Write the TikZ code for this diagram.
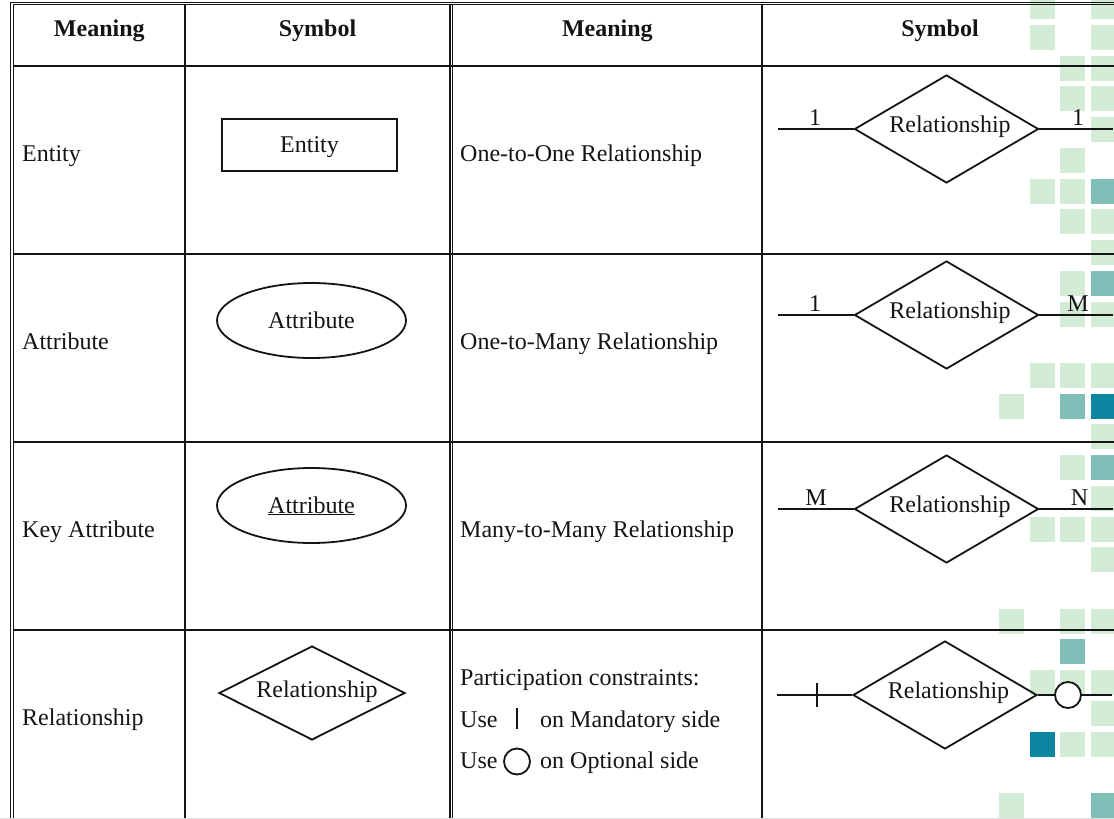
\documentclass[tikz,border=0pt]{standalone}
\usepackage{fontspec}
\setmainfont{Liberation Serif}
\usetikzlibrary{shapes.geometric}

\definecolor{tileLight}{HTML}{D4EBD6}
\definecolor{tileMid}{HTML}{80BFB7}
\definecolor{tileDark}{HTML}{0C86A0}
\definecolor{ink}{HTML}{141414}

\begin{document}
\begin{tikzpicture}[x=1bp,y=-1bp,
  txt/.style={font=\fontsize{24bp}{28bp}\selectfont, inner sep=0pt, text=ink},
  hdr/.style={txt, font=\fontsize{24bp}{28bp}\selectfont\bfseries, anchor=base},
  cell/.style={txt, anchor=base west},
  tag/.style={txt, anchor=base},
  rule/.style={line width=1.3bp, ink},
  dbl/.style={line width=1.1bp, ink},
  conn/.style={line width=1.8bp, ink},
  shp/.style={draw=ink, line width=1.8bp, txt},
  entitybox/.style={shp, rectangle, minimum width=175bp, minimum height=52bp,
    text height=16bp, text depth=2bp},
  attrbox/.style={shp, ellipse, minimum width=189bp, minimum height=75bp,
    text height=16.5bp, text depth=1.5bp},
  relbox/.style={shp, diamond, aspect=1.7, minimum width=184bp, minimum height=108bp,
    text height=12bp, text depth=6bp},
  relsmall/.style={shp, diamond, aspect=2, minimum width=186bp, minimum height=94bp,
    text height=13bp, text depth=5bp},
  ring/.style={draw=ink, line width=1.8bp, circle, minimum size=26bp, inner sep=0pt, fill=white},
]
\useasboundingbox (0,0) rectangle (1114,819);
\clip (0,0) rectangle (1114,819);
\fill[white] (0,0) rectangle (1114,819);

% decorative tiles along the right margin
\foreach \r/\c/\col in {
  0/1/tileLight, 0/3/tileLight, 1/1/tileLight, 1/3/tileLight,
  2/2/tileLight, 2/3/tileLight, 3/2/tileLight, 3/3/tileLight,
  4/3/tileLight, 5/2/tileLight,
  6/1/tileLight, 6/2/tileLight, 6/3/tileMid,
  7/2/tileLight, 7/3/tileLight, 8/3/tileLight,
  9/2/tileLight, 9/3/tileMid, 10/2/tileLight, 10/3/tileLight,
  12/1/tileLight, 12/2/tileLight, 12/3/tileLight,
  13/0/tileLight, 13/2/tileMid, 13/3/tileDark,
  14/3/tileLight, 15/2/tileLight, 15/3/tileMid, 16/3/tileLight,
  17/1/tileLight, 17/2/tileLight, 17/3/tileLight, 18/3/tileLight,
  20/0/tileLight, 20/2/tileLight, 20/3/tileLight, 21/2/tileMid,
  22/1/tileLight, 22/2/tileLight, 22/3/tileLight, 23/3/tileLight,
  24/1/tileDark, 24/2/tileLight, 24/3/tileLight,
  26/0/tileLight, 26/3/tileMid}
  \fill[\col] ({999+30.72*\c},{-5.7+30.72*\r}) rectangle ++(25,25);

% table frame: double outer border and double middle divider
\draw[dbl] (10.8,819) -- (10.8,2.3) -- (1114,2.3);
\draw[dbl] (13.6,819) -- (13.6,4.8) -- (1114,4.8);
\draw[dbl] (450,4.8) -- (450,819);
\draw[dbl] (452.8,4.8) -- (452.8,819);
% single column dividers
\draw[rule] (185,4.8) -- (185,819);
\draw[rule] (762,4.8) -- (762,819);
% row dividers
\foreach \yy in {66,254,442,630}
  \draw[rule] (13.6,\yy) -- (1114,\yy);
\draw[line width=1bp, black!12] (0,818.6) -- (1114,818.6);

% header
\node[hdr] (h1) at (99.3,37) {Meaning};
\node[hdr] (h2) at (317.5,37) {Symbol};
\node[hdr] (h3) at (607.4,37) {Meaning};
\node[hdr] (h4) at (940,37) {Symbol};

% left half: meanings
\node[cell] (m1) at (22,161) {Entity};
\node[cell] (m2) at (22,349) {Attribute};
\node[cell] (m3) at (22,537) {Key Attribute};
\node[cell] (m4) at (22,725) {Relationship};

% left half: symbols
\node[entitybox] (s1) at (309.5,145) {Entity};
\node[attrbox] (s2) at (311.5,320.5) {Attribute};
\node[attrbox] (s3) at (311.5,505.5) {\underline{Attribute}};
\node[relsmall] (s4) at (312,693) {\hspace*{10bp}Relationship};

% right half: meanings
\node[cell] (n1) at (460,161) {One-to-One Relationship};
\node[cell] (n2) at (460,349) {One-to-Many Relationship};
\node[cell] (n3) at (460,537) {Many-to-Many Relationship};
\node[cell] (n4) at (460,685) {Participation constraints:};
\node[cell] (n5) at (460,727) {Use};
\node[cell] (n6) at (540,727) {on Mandatory side};
\node[cell] (n7) at (460,768) {Use};
\node[cell] (n8) at (540,768) {on Optional side};
\coordinate (barmid) at (517,718.5);
\draw[line width=1.6bp, ink] ([yshift=10.5bp]barmid) -- ([yshift=-10.5bp]barmid);
\node[ring] (optring) at (517,761.5) {};

% right half: relationship symbols
\node[relbox] (d1) at (946.5,129) {\hspace*{7bp}Relationship};
\node[relbox] (d2) at (946.5,315) {\hspace*{7bp}Relationship};
\node[relbox] (d3) at (946.5,509) {\hspace*{7bp}Relationship};
\node[relbox] (d4) at (945,695) {\hspace*{7bp}Relationship};

\coordinate (a1) at (778,129);  \coordinate (b1) at (1113,129);
\coordinate (a2) at (778,315);  \coordinate (b2) at (1113,315);
\coordinate (a3) at (778,509);  \coordinate (b3) at (1113,509);
\coordinate (a4) at (777,695);  \coordinate (b4) at (1112,695);

\draw[conn] (a1) -- (d1.west);  \draw[conn] (d1.east) -- (b1);
\draw[conn] (a2) -- (d2.west);  \draw[conn] (d2.east) -- (b2);
\draw[conn] (a3) -- (d3.west);  \draw[conn] (d3.east) -- (b3);
\draw[conn] (a4) -- (d4.west);
\node[ring] (c4) at (1068,695) {};
\draw[conn] (d4.east) -- (c4.west);
\draw[conn] (c4.east) -- (b4);
\coordinate (tick) at (817,695);
\draw[conn] ([yshift=12bp]tick) -- ([yshift=-12bp]tick);

% cardinality labels
\node[tag] (k1a) at (815,125) {1};
\node[tag] (k1b) at (1078,125) {1};
\node[tag] (k2a) at (815,311) {1};
\node[tag] (k2b) at (1078,311) {M};
\node[tag] (k3a) at (816,505) {M};
\node[tag] (k3b) at (1079.5,505) {N};
\end{tikzpicture}
\end{document}
